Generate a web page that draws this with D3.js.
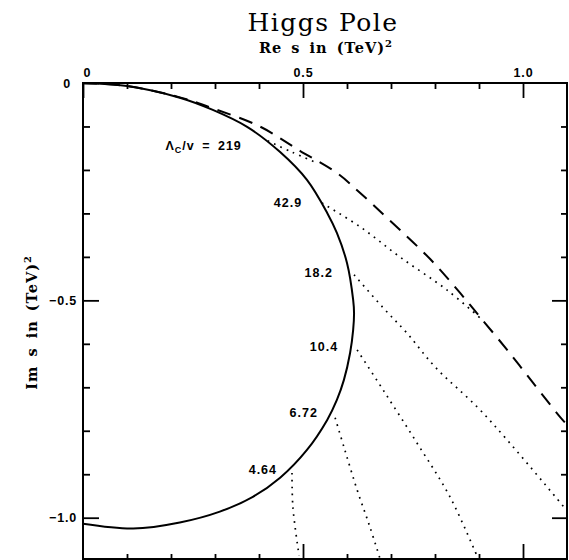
<!DOCTYPE html>
<html>
<head>
    <meta charset="utf-8">
    <title>Higgs Pole</title>
    <script src="https://d3js.org/d3.v7.min.js"></script>
    <style>
        body { margin: 0; background: #fff; }
    </style>
</head>

<body>
<div id="chart"></div>

<script type="text/javascript">
	// pole position in the complex s plane, (TeV)^2
	let poleRe = [0, 0.100, 0.220, 0.295, 0.373, 0.448, 0.509, 0.555, 0.577, 0.600, 0.614, 0.616, 0.614, 0.607, 0.593, 0.577, 0.555, 0.509, 0.448, 0.386, 0.311, 0.220, 0.114, 0];
	let poleIm = [0, -0.007, -0.034, -0.062, -0.101, -0.159, -0.223, -0.299, -0.345, -0.414, -0.499, -0.529, -0.568, -0.621, -0.683, -0.729, -0.775, -0.844, -0.908, -0.952, -0.986, -1.011, -1.025, -1.014];

	// dashed curve
	let limitRe = [0, 0.100, 0.220, 0.300, 0.402, 0.493, 0.577, 0.630, 0.698, 0.789, 0.857, 0.902, 0.964, 1.023, 1.084, 1.1];
	let limitIm = [0, -0.007, -0.033, -0.060, -0.100, -0.156, -0.207, -0.253, -0.317, -0.405, -0.483, -0.538, -0.614, -0.690, -0.768, -0.786];

	// Lambda_c / v values marked on the solid curve
	let ratios = ["219", "42.9", "18.2", "10.4", "6.72", "4.64"];
	let labelRe = [0.361, 0.498, 0.568, 0.580, 0.534, 0.441];
	let labelIm = [-0.143, -0.276, -0.437, -0.607, -0.759, -0.890];

	// dotted lines leaving the solid curve
	let dottedRe = [
		[0.420, 0.475, 0.527],
		[0.543, 0.630, 0.720, 0.827, 0.902],
		[0.616, 0.682, 0.736, 0.800, 0.909, 1.1],
		[0.623, 0.682, 0.759, 0.834, 0.898],
		[0.573, 0.595, 0.623, 0.652, 0.675],
		[0.475, 0.477, 0.491]
	];
	let dottedIm = [
		[-0.133, -0.159, -0.182],
		[-0.276, -0.331, -0.400, -0.476, -0.540],
		[-0.441, -0.517, -0.575, -0.653, -0.759, -0.984],
		[-0.614, -0.706, -0.828, -0.952, -1.094],
		[-0.770, -0.844, -0.936, -1.021, -1.094],
		[-0.897, -0.975, -1.087]
	];

	let xMajor = [0, 0.5, 1.0];
	let xMajorLabels = ["0", "0.5", "1.0"];
	let xMinor = [0.1, 0.2, 0.3, 0.4, 0.6, 0.7, 0.8, 0.9];
	let yMajor = [0, -0.5, -1.0];
	let yMajorLabels = ["0", "\u22120.5", "\u22121.0"];
	let yMinor = [-0.1, -0.2, -0.3, -0.4, -0.6, -0.7, -0.8, -0.9];

	let margin = {top: 83, right: 2, bottom: 1, left: 83};
	let w = 569 - margin.left - margin.right;
	let h = 560 - margin.top - margin.bottom;

	let svg = d3.select("#chart")
		.append("svg")
			.attr("width", 569)
			.attr("height", 560)
		.append("g")
			.attr("transform", "translate(" + margin.left + "," + margin.top + ")");

	let xScale = d3.scaleLinear()
		.domain([0, 1.1])
		.range([0, w]);

	let yScale = d3.scaleLinear()
		.domain([0, -1.095])
		.range([0, h]);

	svg.append("clipPath")
		.attr("id", "frame")
		.append("rect")
			.attr("width", w)
			.attr("height", h);

	let tickFont = function (g) {
		g.select(".domain").remove();
		g.selectAll("line").attr("stroke-width", 1.8);
		g.attr("font-family", "'Liberation Sans', Arial, sans-serif")
			.attr("font-size", "12.5px")
			.attr("font-weight", "bold")
			.attr("letter-spacing", "0.8px");
	};

	// ticks all point inward
	svg.append("g")
		.call(d3.axisTop(xScale).tickValues(xMinor).tickSize(-6).tickFormat(""))
		.call(tickFont);
	svg.append("g")
		.call(d3.axisTop(xScale).tickValues(xMajor).tickSize(-15).tickPadding(6)
			.tickFormat(function (d, i) { return xMajorLabels[i]; }))
		.call(tickFont)
		.selectAll("text")
			.attr("dx", function (d) { return d == 0 ? 4 : 0; });

	svg.append("g")
		.attr("transform", "translate(0," + h + ")")
		.call(d3.axisBottom(xScale).tickValues(xMinor).tickSize(-5).tickFormat(""))
		.call(tickFont);
	svg.append("g")
		.attr("transform", "translate(0," + h + ")")
		.call(d3.axisBottom(xScale).tickValues(xMajor.slice(1)).tickSize(-15).tickFormat(""))
		.call(tickFont);

	svg.append("g")
		.call(d3.axisLeft(yScale).tickValues(yMinor).tickSize(-7).tickFormat(""))
		.call(tickFont);
	svg.append("g")
		.call(d3.axisLeft(yScale).tickValues(yMajor).tickSize(-16).tickPadding(6)
			.tickFormat(function (d, i) { return yMajorLabels[i]; }))
		.call(tickFont)
		.selectAll("text")
			.attr("dx", function (d) { return d == 0 ? -6 : 0; });

	svg.append("g")
		.attr("transform", "translate(" + w + ",0)")
		.call(d3.axisRight(yScale).tickValues(yMinor).tickSize(-6).tickFormat(""))
		.call(tickFont);
	svg.append("g")
		.attr("transform", "translate(" + w + ",0)")
		.call(d3.axisRight(yScale).tickValues(yMajor.slice(1)).tickSize(-15).tickFormat(""))
		.call(tickFont);

	svg.append("rect")
		.attr("width", w)
		.attr("height", h)
		.attr("fill", "none")
		.attr("stroke", "#000")
		.attr("stroke-width", 2);

	let line = d3.line()
		.x(function (d) { return xScale(d[0]); })
		.y(function (d) { return yScale(d[1]); })
		.curve(d3.curveCatmullRom);

	let plot = svg.append("g").attr("clip-path", "url(#frame)");

	plot.append("path")
		.datum(d3.zip(poleRe, poleIm))
		.attr("d", line)
		.attr("fill", "none")
		.attr("stroke", "#000")
		.attr("stroke-width", 2);

	plot.append("path")
		.datum(d3.zip(limitRe, limitIm))
		.attr("d", line)
		.attr("fill", "none")
		.attr("stroke", "#000")
		.attr("stroke-width", 2)
		.attr("stroke-dasharray", "14,9");

	plot.selectAll(".dotted")
		.data(d3.range(ratios.length))
		.enter()
		.append("path")
		.attr("class", "dotted")
		.attr("d", function (i) { return line(d3.zip(dottedRe[i], dottedIm[i])); })
		.attr("fill", "none")
		.attr("stroke", "#000")
		.attr("stroke-width", 1.7)
		.attr("stroke-dasharray", "1.7,5.2");

	let labels = svg.selectAll(".ratio")
		.data(d3.range(ratios.length))
		.enter()
		.append("text")
		.attr("class", "ratio")
		.attr("x", function (i) { return xScale(labelRe[i]); })
		.attr("y", function (i) { return yScale(labelIm[i]); })
		.attr("dy", "0.35em")
		.attr("text-anchor", "end")
		.attr("font-family", "'Liberation Sans', Arial, sans-serif")
		.attr("font-size", "12.5px")
		.attr("font-weight", "bold")
		.attr("letter-spacing", "1px")
		.attr("word-spacing", "3px");

	labels.filter(function (i) { return i > 0; })
		.text(function (i) { return ratios[i]; });

	let first = labels.filter(function (i) { return i == 0; });
	first.append("tspan").text("\u039B");
	first.append("tspan").attr("dy", "3").attr("font-size", "9px").text("C");
	first.append("tspan").attr("dy", "-3").text("/v = " + ratios[0]);

	// titles
	svg.append("text")
		.attr("x", w / 2 - 2)
		.attr("y", -52)
		.attr("text-anchor", "middle")
		.attr("font-family", "'DejaVu Serif', serif")
		.attr("font-size", "25px")
		.attr("letter-spacing", "1.5px")
		.text("Higgs Pole");

	let xTitle = svg.append("text")
		.attr("x", w / 2 + 1)
		.attr("y", -30)
		.attr("text-anchor", "middle")
		.attr("font-family", "'DejaVu Serif', serif")
		.attr("font-size", "14.5px")
		.attr("font-weight", "bold")
		.attr("letter-spacing", "1px")
		.attr("word-spacing", "3px")
		.text("Re s in (TeV)");
	xTitle.append("tspan").attr("dy", "-6").attr("font-size", "10px").text("2");

	let yTitle = svg.append("text")
		.attr("transform", "rotate(-90)")
		.attr("x", -(yScale(-0.5) + 22))
		.attr("y", -46)
		.attr("text-anchor", "middle")
		.attr("font-family", "'DejaVu Serif', serif")
		.attr("font-size", "14.5px")
		.attr("font-weight", "bold")
		.attr("letter-spacing", "1px")
		.attr("word-spacing", "3px")
		.text("Im s in (TeV)");
	yTitle.append("tspan").attr("dy", "-6").attr("font-size", "10px").text("2");
</script>
</body>
</html>
